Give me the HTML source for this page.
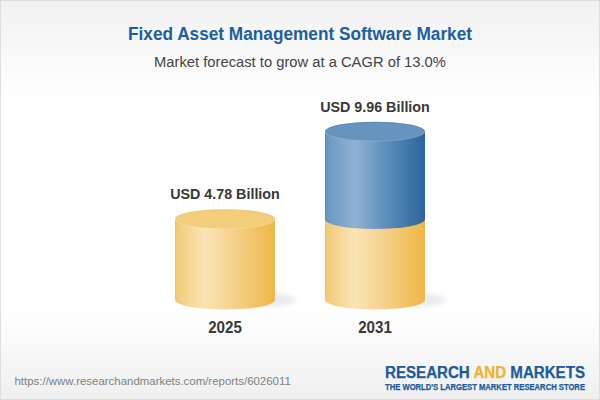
<!DOCTYPE html>
<html><head><meta charset="utf-8"><style>
html,body{margin:0;padding:0;width:600px;height:400px;overflow:hidden;background:#fff}
svg{display:block}
text{font-family:"Liberation Sans",sans-serif}
</style></head><body>
<svg width="600" height="400" viewBox="0 0 600 400">
<defs>
  <linearGradient id="bgTop" x1="0" y1="0" x2="0" y2="1">
    <stop offset="0" stop-color="#f1f1f1"/>
    <stop offset="1" stop-color="#ffffff"/>
  </linearGradient>
  <linearGradient id="bgBot" x1="0" y1="0" x2="0" y2="1">
    <stop offset="0" stop-color="#ffffff"/>
    <stop offset="1" stop-color="#efefef"/>
  </linearGradient>
  <linearGradient id="yBody" x1="0" y1="0" x2="1" y2="0">
    <stop offset="0" stop-color="#eec368"/>
    <stop offset="0.025" stop-color="#f2cb7b"/>
    <stop offset="0.06" stop-color="#f3cf82"/>
    <stop offset="0.30" stop-color="#fae4b6"/>
    <stop offset="0.60" stop-color="#f5d08a"/>
    <stop offset="1" stop-color="#efb644"/>
  </linearGradient>
  <linearGradient id="bBody" x1="0" y1="0" x2="1" y2="0">
    <stop offset="0" stop-color="#5d8dbc"/>
    <stop offset="0.025" stop-color="#6b98c4"/>
    <stop offset="0.06" stop-color="#709cc6"/>
    <stop offset="0.30" stop-color="#8fb2d2"/>
    <stop offset="0.60" stop-color="#5f8fbd"/>
    <stop offset="1" stop-color="#2a659e"/>
  </linearGradient>
  <filter id="blur" x="-50%" y="-50%" width="200%" height="200%">
    <feGaussianBlur stdDeviation="2.5"/>
  </filter>
</defs>
<rect x="0" y="0" width="600" height="400" fill="#fff"/>
<rect x="0" y="0" width="600" height="100" fill="url(#bgTop)"/>
<rect x="0" y="310" width="600" height="90" fill="url(#bgBot)"/>
<rect x="0.5" y="0.5" width="599" height="399" fill="none" stroke="#dedede" stroke-width="1"/>

<text x="300" y="40" text-anchor="middle" font-size="18" font-weight="bold" fill="#1c5fa0" textLength="344" lengthAdjust="spacingAndGlyphs">Fixed Asset Management Software Market</text>
<text x="300" y="67" text-anchor="middle" font-size="14.75" fill="#444">Market forecast to grow at a CAGR of 13.0%</text>

<!-- shadows -->
<ellipse cx="258" cy="300" rx="38" ry="7.5" fill="#5a6a90" opacity="0.13" filter="url(#blur)"/>
<ellipse cx="408" cy="300" rx="38" ry="7.5" fill="#5a6a90" opacity="0.13" filter="url(#blur)"/>

<!-- cylinder 1 -->
<path d="M175 219 L175 299.75 A50 9.75 0 0 0 275 299.75 L275 219 Z" fill="url(#yBody)"/>
<ellipse cx="225" cy="219" rx="50" ry="9.75" fill="#f3cd7a"/>
<path d="M175.6 219 A49.4 9.2 0 0 1 274.4 219" fill="none" stroke="#eec265" stroke-width="1" opacity="0.5"/>
<path d="M175.5 219.5 A49.5 9.3 0 0 0 274.5 219.5" fill="none" stroke="#fde8b8" stroke-width="0.8" opacity="0.45"/>

<!-- cylinder 2 -->
<path d="M325 219 L325 299.75 A50 9.75 0 0 0 425 299.75 L425 219 Z" fill="url(#yBody)"/>
<path d="M325 131.4 L325 219.3 A50 9.7 0 0 0 425 219.3 L425 131.4 Z" fill="url(#bBody)"/>
<ellipse cx="375" cy="131.4" rx="50" ry="9.6" fill="#6794bf"/>
<path d="M325.6 131.4 A49.4 9.05 0 0 1 424.4 131.4" fill="none" stroke="#5283b3" stroke-width="1" opacity="0.5"/>
<path d="M325.5 131.9 A49.5 9.15 0 0 0 424.5 131.9" fill="none" stroke="#a8c4de" stroke-width="0.8" opacity="0.45"/>

<text x="225" y="198.5" text-anchor="middle" font-size="15.3" font-weight="bold" fill="#383838" textLength="109.6" lengthAdjust="spacingAndGlyphs">USD 4.78 Billion</text>
<text x="375" y="111.5" text-anchor="middle" font-size="15.3" font-weight="bold" fill="#383838" textLength="109.6" lengthAdjust="spacingAndGlyphs">USD 9.96 Billion</text>
<text x="225" y="332.6" text-anchor="middle" font-size="16" font-weight="bold" fill="#383838" textLength="33.6" lengthAdjust="spacingAndGlyphs">2025</text>
<text x="375" y="332.6" text-anchor="middle" font-size="16" font-weight="bold" fill="#383838" textLength="33.6" lengthAdjust="spacingAndGlyphs">2031</text>

<text x="14.5" y="384.7" font-size="11.44" fill="#808080">https://www.researchandmarkets.com/reports/6026011</text>

<text x="385" y="377.5" font-size="16" font-weight="bold" fill="#1b5b9b" stroke="#1b5b9b" stroke-width="0.25" textLength="200" lengthAdjust="spacingAndGlyphs">RESEARCH <tspan fill="#f0b12e" stroke="#f0b12e">AND</tspan> MARKETS</text>
<text x="385" y="389.7" font-size="8.5" font-weight="bold" fill="#1b5b9b" stroke="#1b5b9b" stroke-width="0.25" textLength="200" lengthAdjust="spacingAndGlyphs">THE WORLD'S LARGEST MARKET RESEARCH STORE</text>
</svg>
</body></html>
